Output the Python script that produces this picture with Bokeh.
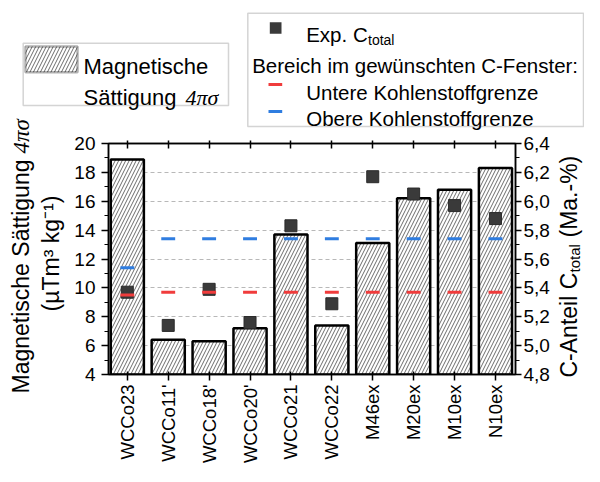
from math import pi
from bokeh.plotting import figure
from bokeh.layouts import column
from bokeh.models import (Range1d, LinearAxis, FixedTicker, CustomJSTickFormatter,
                          Label, BoxAnnotation, ColumnDataSource, GridBox)
from bokeh.embed import file_html
from bokeh.resources import INLINE

# ---------------- data ----------------
categories = ["WCCo23", "WCCo11'", "WCCo18'", "WCCo20'", "WCCo21", "WCCo22",
              "M46ex", "M20ex", "M10ex", "N10ex"]
saettigung = [18.9, 6.4, 6.3, 7.2, 13.7, 7.4, 13.1, 16.2, 16.8, 18.3]      # 4πσ (µTm³/kg)
c_total = [5.37, 5.14, 5.39, 5.16, 5.83, 5.29, 6.17, 6.05, 5.97, 5.88]     # Ma.-%
c_untere = [5.35, 5.37, 5.37, 5.37, 5.37, 5.37, 5.37, 5.37, 5.37, 5.37]
c_obere = [5.54, 5.74, 5.74, 5.74, 5.74, 5.74, 5.74, 5.74, 5.74, 5.74]
left_ticks = [4, 6, 8, 10, 12, 14, 16, 18, 20]
left_minor = [5, 7, 9, 11, 13, 15, 17, 19]
right_ticks = [4.8, 5.0, 5.2, 5.4, 5.6, 5.8, 6.0, 6.2, 6.4]
right_minor = [4.9, 5.1, 5.3, 5.5, 5.7, 5.9, 6.1, 6.3]

positions = list(range(len(categories)))
FONT = "Liberation Sans"
RED = "#f03c3c"
BLUE = "#2f7de0"
W, H = 584, 466

src = ColumnDataSource(dict(x=positions, cat=categories, s=saettigung,
                            c=c_total, lo=c_untere, hi=c_obere))

# ---------------- main plot ----------------
p = figure(width=W, height=H, output_backend="svg", toolbar_location=None,
           x_range=Range1d(-0.46, 9.49), y_range=Range1d(4, 20),
           min_border_left=108, min_border_right=W - 515, min_border_top=143,
           min_border_bottom=H - 378, title=None)
p.extra_y_ranges = {"c": Range1d(4.8, 6.4)}
p.background_fill_color = "white"
p.border_fill_color = "white"
p.outline_line_color = "black"
p.outline_line_width = 1.5

p.xgrid.visible = False
p.ygrid.ticker = FixedTicker(ticks=left_ticks)
p.ygrid.grid_line_color = "#b8b8b8"
p.ygrid.grid_line_dash = "4 3"
p.ygrid.grid_line_width = 1.2

HATCH = dict(hatch_pattern="/", hatch_color="#505050", hatch_scale=7, hatch_weight=0.85)
p.vbar(x="x", top="s", bottom=4, width=0.81, source=src,
       fill_color="white", line_color="black", line_width=2.5, **HATCH)
p.scatter(x="x", y="c", source=src, marker="square", size=12,
          fill_color="#3a3a3a", line_color="#2a2a2a", y_range_name="c")
p.rect(x="x", y="lo", width=0.34, height=3, height_units="screen", source=src,
       fill_color=RED, line_color=None, y_range_name="c")
p.rect(x="x", y="hi", width=0.34, height=3, height_units="screen", source=src,
       fill_color=BLUE, line_color=None, y_range_name="c")

def style_axis(ax, size="19px"):
    ax.axis_line_color = "black"
    ax.axis_line_width = 1.5
    ax.major_tick_line_color = "black"
    ax.major_tick_line_width = 1.5
    ax.minor_tick_line_color = "black"
    ax.minor_tick_line_width = 1.2
    ax.major_label_text_font = FONT
    ax.major_label_text_font_size = size
    ax.major_label_text_color = "black"

ya = p.yaxis[0]
ya.ticker = FixedTicker(ticks=left_ticks, minor_ticks=left_minor)
style_axis(ya)
ya.major_tick_out, ya.major_tick_in = 7, 0
ya.minor_tick_out, ya.minor_tick_in = 4, 0
ya.major_label_standoff = 6

xa = p.xaxis[0]
xa.ticker = FixedTicker(ticks=positions)
xa.major_label_overrides = {i: c for i, c in zip(positions, categories)}
style_axis(xa, "18.5px")
xa.major_label_orientation = pi / 2
xa.major_tick_out, xa.major_tick_in = 6, 3
xa.major_label_standoff = 4
xa.minor_tick_line_color = None

ta = LinearAxis(ticker=FixedTicker(ticks=positions))
style_axis(ta, "1px")
ta.major_label_text_color = None
ta.major_label_standoff = 0
ta.major_tick_out, ta.major_tick_in = 3, 5
ta.minor_tick_line_color = None
p.add_layout(ta, "above")

ra = LinearAxis(y_range_name="c", ticker=FixedTicker(ticks=right_ticks, minor_ticks=right_minor),
                formatter=CustomJSTickFormatter(code="return tick.toFixed(1).replace('.', ',');"))
style_axis(ra)
ra.major_tick_out, ra.major_tick_in = 6, 0
ra.minor_tick_out, ra.minor_tick_in = 4, 0
ra.major_label_standoff = 2
p.add_layout(ra, "right")

# ---------------- overlay for titles and legends (canvas pixel coordinates) ----------------
q = figure(width=W, height=H, output_backend="svg", toolbar_location=None,
           x_range=Range1d(0, W), y_range=Range1d(H, 0),
           x_axis_type=None, y_axis_type=None, title=None,
           min_border_left=0, min_border_right=0, min_border_top=0, min_border_bottom=0)
q.background_fill_color = None
q.border_fill_color = None
q.outline_line_color = None

def lab(text, x, y, size, align="left", baseline="alphabetic", angle=0.0,
        font=FONT, style="normal"):
    q.add_layout(Label(x=x, y=y, text=text, text_font=font, text_font_size=size,
                       text_font_style=style, text_align=align, text_baseline=baseline,
                       angle=angle, text_color="black"))

def box(l, r, t, b, **kw):
    q.add_layout(BoxAnnotation(left=l, right=r, top=t, bottom=b, **kw))

# axis titles
lab("Magnetische Sättigung", 20, 393, "23px", baseline="middle", angle=pi / 2)
lab("4πσ", 21, 153, "23px", baseline="middle", angle=pi / 2,
    font="Liberation Serif", style="italic")
lab("(µTm³ kg⁻¹)", 50, 253, "23px", align="center", baseline="middle", angle=pi / 2)
lab("C-Anteil C", 568, 377, "23px", baseline="middle", angle=pi / 2)
lab("total", 574, 272, "15px", baseline="middle", angle=pi / 2)
lab("(Ma.-%)", 568, 237, "23px", baseline="middle", angle=pi / 2)

# left legend
box(22.7, 228, 42.7, 105, fill_color="white", fill_alpha=1, line_color="#707070", line_width=1.5)
box(25, 77, 46, 71.7, fill_color="white", fill_alpha=1, line_color="black", line_width=2.5, **HATCH)
lab("Magnetische", 83, 66, "22px")
lab("Sättigung", 83, 96.7, "22px")
lab("4πσ", 185, 96.7, "22px", font="Liberation Serif", style="italic")

# right legend
box(247.3, 583, 12.7, 126, fill_color="white", fill_alpha=1, line_color="#707070", line_width=1.5)
box(269.3, 281, 21.7, 33.3, fill_color="#3a3a3a", fill_alpha=1, line_color=None)
lab("Exp. C", 305.7, 34.3, "20.5px")
lab("total", 367.5, 39.5, "14px")
lab("Bereich im gewünschten C-Fenster:", 251.7, 65, "20.5px")
box(268, 281.7, 82.5, 85.5, fill_color=RED, fill_alpha=1, line_color=None)
lab("Untere Kohlenstoffgrenze", 305.7, 91.7, "20.5px")
box(268, 281.7, 109.5, 112.5, fill_color=BLUE, fill_alpha=1, line_color=None)
lab("Obere Kohlenstoffgrenze", 305.7, 118.3, "20.5px")

layout = GridBox(children=[(column(p), 0, 0), (column(q), 0, 0)])
open("out.html", "w").write(file_html(layout, INLINE))
